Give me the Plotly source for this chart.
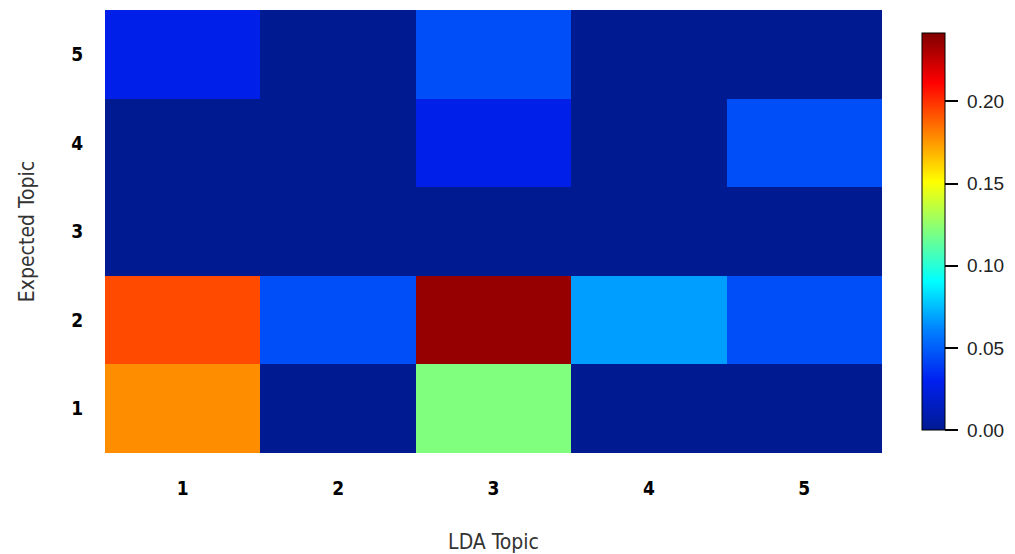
import plotly.graph_objects as go

lda_topics = [1, 2, 3, 4, 5]
expected_topics = [1, 2, 3, 4, 5]
# rows: expected topic 1..5, columns: LDA topic 1..5
row_1 = [0.178, 0.0, 0.121, 0.0, 0.0]
row_2 = [0.194, 0.045, 0.236, 0.068, 0.045]
row_3 = [0.0, 0.0, 0.0, 0.0, 0.0]
row_4 = [0.0, 0.0, 0.028, 0.0, 0.045]
row_5 = [0.028, 0.0, 0.045, 0.0, 0.0]
z_values = [row_1, row_2, row_3, row_4, row_5]
cb_ticks = [0.0, 0.05, 0.10, 0.15, 0.20]
cb_ticktext = ["\u00a00.00", "\u00a00.05", "\u00a00.10", "\u00a00.15", "\u00a00.20"]
z_max = 0.2417

jet = [
    [0.0, "#001A92"], [0.125, "#0020F0"], [0.25, "#007FFF"], [0.375, "#00FFFF"],
    [0.5, "#7FFF7F"], [0.625, "#FFFF00"], [0.75, "#FF7F00"], [0.875, "#FF0000"],
    [1.0, "#7F0000"],
]

# the page body adds an 8px offset; figure coordinates are page coordinates - 8
OFF = 8
W, H = 1015 - OFF, 554 - OFF
ml, mt = 105 - OFF, 10 - OFF
pw, ph = 777, 443
mr = W - ml - pw
mb = H - mt - ph

fig = go.Figure(go.Heatmap(
    x=lda_topics, y=expected_topics, z=z_values,
    colorscale=jet, zmin=0, zmax=z_max,
    xgap=0, ygap=0, showscale=True,
    colorbar=dict(
        thickness=23, thicknessmode="pixels",
        len=397, lenmode="pixels",
        x=(922 - 105) / pw, xanchor="left",
        y=(453 - 33) / ph, yanchor="top",
        xpad=0, ypad=0,
        outlinewidth=1, outlinecolor="black",
        ticks="outside", ticklen=13, tickwidth=1.5, tickcolor="black",
        tickvals=cb_ticks, ticktext=cb_ticktext,
        tickfont=dict(family="Liberation Sans, Arial", size=19, color="#222"),
    ),
))

fig.update_layout(
    width=W, height=H,
    margin=dict(l=ml, r=mr, t=mt, b=mb, pad=0),
    paper_bgcolor="white", plot_bgcolor="white",
    xaxis=dict(
        range=[0.5, 5.5], tickvals=lda_topics, ticktext=[str(v) for v in lda_topics],
        ticks="outside", ticklen=18, tickcolor="rgba(0,0,0,0)",
        tickfont=dict(family="DejaVu Sans Condensed, DejaVu Sans", size=19, color="black", weight="bold"),
        showgrid=False, zeroline=False, showline=False,
        title=dict(text="LDA Topic", standoff=38,
                   font=dict(family="DejaVu Sans Condensed, DejaVu Sans", size=21, color="#333")),
    ),
    yaxis=dict(
        range=[0.5, 5.5], tickvals=expected_topics, ticktext=[str(v) for v in expected_topics],
        ticks="outside", ticklen=17, tickcolor="rgba(0,0,0,0)",
        tickfont=dict(family="DejaVu Sans Condensed, DejaVu Sans", size=19, color="black", weight="bold"),
        showgrid=False, zeroline=False, showline=False,
        title=dict(text="Expected Topic", standoff=30,
                   font=dict(family="DejaVu Sans Condensed, DejaVu Sans", size=21, color="#333")),
    ),
)

fig.write_html("out.html")
